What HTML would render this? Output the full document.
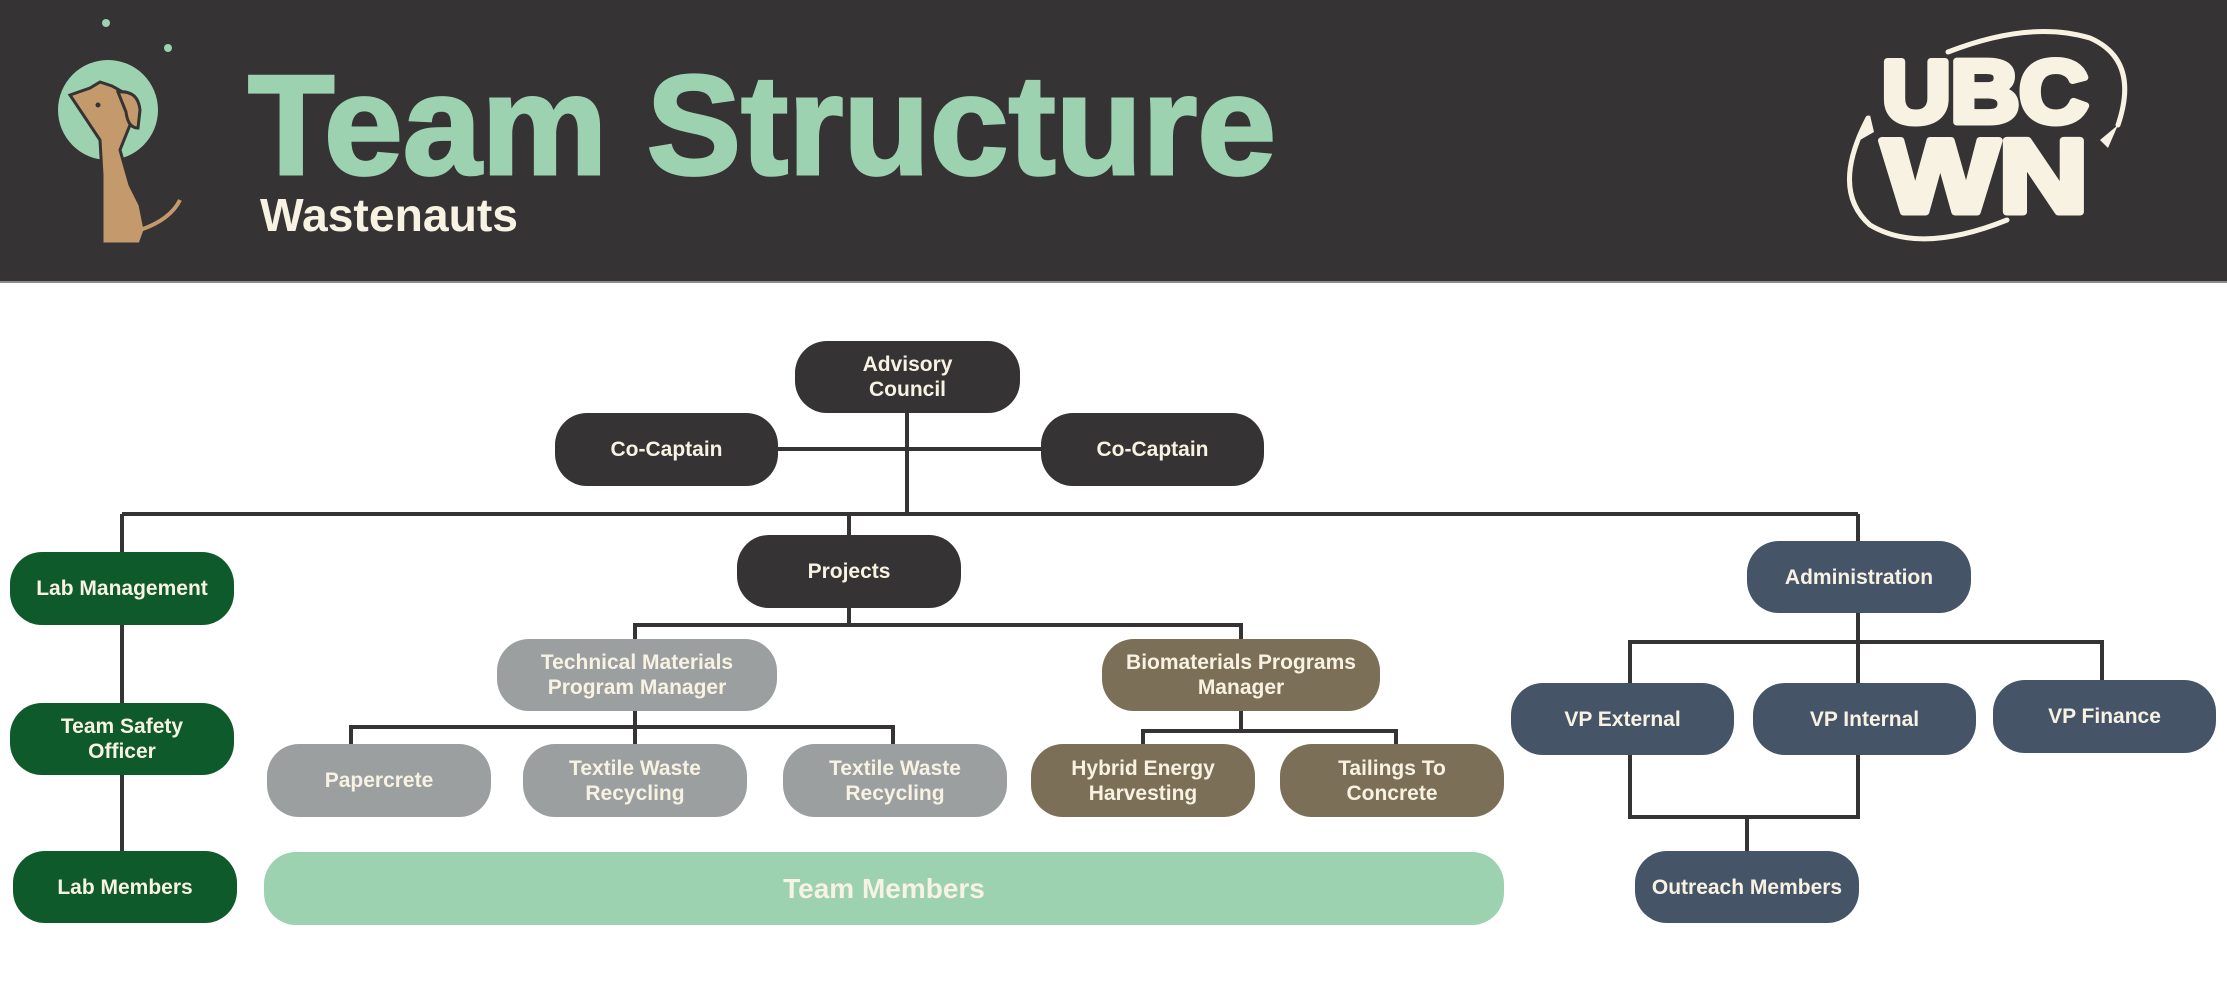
<!DOCTYPE html>
<html><head><meta charset="utf-8"><style>
html,body{margin:0;padding:0;}
body{width:2227px;height:987px;position:relative;background:#fff;overflow:hidden;font-family:"Liberation Sans",sans-serif;}
.hdr{position:absolute;left:0;top:0;width:2227px;height:281px;background:#353334;border-bottom:2px solid #8a8a8a;}
.n{position:absolute;display:flex;align-items:center;justify-content:center;text-align:center;color:#f8f2e3;font-weight:bold;font-size:21px;line-height:25px;border-radius:32px;box-sizing:border-box;}
.d{background:#353334}.g{background:#0f5a2b}.gr{background:#9c9fa0}.b{background:#7b6f57}.s{background:#455567}
</style></head><body>
<div class="hdr"></div>
<svg style="position:absolute;left:0;top:0" width="2227" height="281">
 <circle cx="106" cy="23" r="4" fill="#9dd2b0"/>
 <circle cx="168" cy="48" r="4" fill="#9dd2b0"/>
 <circle cx="108" cy="110" r="50" fill="#9dd2b0"/>
 <path d="M70 95 L90 88 L100 82 L112 86 L128 95 L132 120 L120 150 L130 185 L140 205 L145 230 L140 244 L102 244 L102 175 L100 140 Z" fill="#c4996b" stroke="#353334" stroke-width="3"/>
 <path d="M118 92 Q138 90 140 110 L138 128 Q128 128 126 112 Z" fill="#c4996b" stroke="#353334" stroke-width="3"/>
 <circle cx="98" cy="105" r="2.5" fill="#353334"/>
 <path d="M140 230 Q170 220 180 200" stroke="#c4996b" stroke-width="4" fill="none"/>
 <text x="248" y="174" font-family="Liberation Sans" font-weight="bold" font-size="142" fill="#9dd2b0" stroke="#9dd2b0" stroke-width="3" textLength="1028" lengthAdjust="spacingAndGlyphs">Team Structure</text>
 <text x="260" y="231" font-family="Liberation Sans" font-weight="bold" font-size="46" fill="#f8f2e3" textLength="258" lengthAdjust="spacingAndGlyphs">Wastenauts</text>
 <g fill="none" stroke="#f8f2e3" stroke-width="5" stroke-linecap="round">
  <path d="M1948 52 Q2030 20 2090 38 Q2140 60 2118 125"/>
  <path d="M2007 220 Q1920 255 1870 225 Q1830 190 1868 118"/>
 </g>
 <path d="M2118 125 L2100 140 L2108 148 Z" fill="#f8f2e3"/>
 <path d="M1870 115 L1860 140 L1874 132 Z" fill="#f8f2e3"/>
 <text x="1882" y="122" font-family="Liberation Sans" font-weight="bold" font-size="88" fill="#f8f2e3" stroke="#f8f2e3" stroke-width="7" stroke-linejoin="round" textLength="206" lengthAdjust="spacingAndGlyphs">UBC</text>
 <text x="1882" y="212" font-family="Liberation Sans" font-weight="bold" font-size="104" fill="#f8f2e3" stroke="#f8f2e3" stroke-width="7" stroke-linejoin="round" textLength="206" lengthAdjust="spacingAndGlyphs">WN</text>
</svg>
<svg style="position:absolute;left:0;top:0" width="2227" height="987">
 <g stroke="#353334" stroke-width="4" fill="none">
  <line x1="907" y1="413" x2="907" y2="514"/>
  <line x1="778" y1="449" x2="1041" y2="449"/>
  <line x1="122" y1="514" x2="1858" y2="514"/>
  <line x1="122" y1="514" x2="122" y2="851"/>
  <line x1="849" y1="514" x2="849" y2="535"/>
  <line x1="1858" y1="514" x2="1858" y2="541"/>
  <line x1="849" y1="608" x2="849" y2="625"/>
  <polyline points="635,639 635,625 1241,625 1241,639"/>
  <line x1="635" y1="711" x2="635" y2="744"/>
  <polyline points="351,744 351,727 893,727 893,744"/>
  <line x1="1241" y1="711" x2="1241" y2="731"/>
  <polyline points="1143,744 1143,731 1396,731 1396,744"/>
  <line x1="1858" y1="613" x2="1858" y2="683"/>
  <polyline points="1630,683 1630,642 2102,642 2102,680"/>
  <polyline points="1630,755 1630,817 1858,817 1858,755"/>
  <line x1="1747" y1="817" x2="1747" y2="851"/>
 </g>
</svg>
<div class="n d" style="left:795px;top:341px;width:225px;height:72px">Advisory<br>Council</div>
<div class="n d" style="left:555px;top:413px;width:223px;height:73px">Co-Captain</div>
<div class="n d" style="left:1041px;top:413px;width:223px;height:73px">Co-Captain</div>
<div class="n d" style="left:737px;top:535px;width:224px;height:73px">Projects</div>
<div class="n g" style="left:10px;top:552px;width:224px;height:73px">Lab Management</div>
<div class="n g" style="left:10px;top:703px;width:224px;height:72px">Team Safety<br>Officer</div>
<div class="n g" style="left:13px;top:851px;width:224px;height:72px">Lab Members</div>
<div class="n gr" style="left:497px;top:639px;width:280px;height:72px">Technical Materials<br>Program Manager</div>
<div class="n b" style="left:1102px;top:639px;width:278px;height:72px">Biomaterials Programs<br>Manager</div>
<div class="n gr" style="left:267px;top:744px;width:224px;height:73px">Papercrete</div>
<div class="n gr" style="left:523px;top:744px;width:224px;height:73px">Textile Waste<br>Recycling</div>
<div class="n gr" style="left:783px;top:744px;width:224px;height:73px">Textile Waste<br>Recycling</div>
<div class="n b" style="left:1031px;top:744px;width:224px;height:73px">Hybrid Energy<br>Harvesting</div>
<div class="n b" style="left:1280px;top:744px;width:224px;height:73px">Tailings To<br>Concrete</div>
<div class="n" style="left:264px;top:852px;width:1240px;height:73px;background:#9dd2b0;font-size:28px">Team Members</div>
<div class="n s" style="left:1747px;top:541px;width:224px;height:72px">Administration</div>
<div class="n s" style="left:1511px;top:683px;width:223px;height:72px">VP External</div>
<div class="n s" style="left:1753px;top:683px;width:223px;height:72px">VP Internal</div>
<div class="n s" style="left:1993px;top:680px;width:223px;height:73px">VP Finance</div>
<div class="n s" style="left:1635px;top:851px;width:224px;height:72px">Outreach Members</div>
</body></html>
